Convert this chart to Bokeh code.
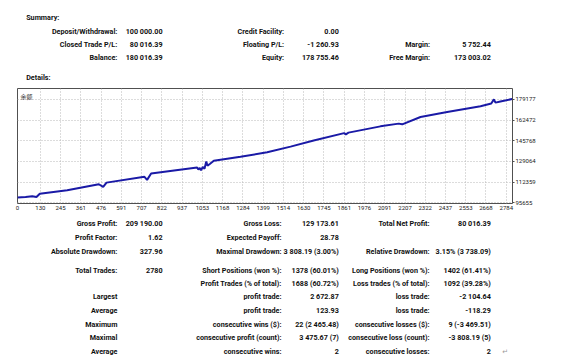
from bokeh.plotting import figure
from bokeh.layouts import column
from bokeh.models import Range1d, FixedTicker, BasicTickFormatter, ColumnDataSource
from bokeh.core.properties import value
from bokeh.embed import file_html
from bokeh.resources import INLINE

# ---------------- data ----------------
sum_col1_labels = ["Deposit/Withdrawal:", "Closed Trade P/L:", "Balance:"]
sum_col1_values = ["100 000.00", "80 016.39", "180 016.39"]
sum_col2_labels = ["Credit Facility:", "Floating P/L:", "Equity:"]
sum_col2_values = ["0.00", "-1 260.93", "178 755.46"]
sum_col3_labels = ["", "Margin:", "Free Margin:"]
sum_col3_values = ["", "5 752.44", "173 003.02"]

trade_no = [0, 46, 84, 108, 127, 283, 463, 488, 507, 723, 738, 761,
            1023, 1030, 1038, 1045, 1055, 1065, 1075, 1082, 1095, 1118,
            1270, 1422, 1555, 1687, 1860, 1870, 1885, 2067, 2171, 2191,
            2295, 2447, 2637, 2698, 2713, 2722, 2750, 2817]
balance = [100000, 100300, 100870, 100300, 102990, 105760, 110650, 108450, 111950, 116600, 114150, 119290,
           124180, 122500, 123800, 121900, 124500, 123200, 128900, 125600, 127000, 129640,
           132900, 136400, 141000, 145940, 151890, 150900, 152300, 157350, 159550, 158980,
           164930, 169000, 173650, 175850, 179110, 176500, 177480, 179400]

x_tick_labels = [0, 130, 245, 361, 476, 591, 707, 822, 937, 1053, 1168, 1284, 1399,
                 1514, 1630, 1745, 1861, 1976, 2091, 2207, 2322, 2437, 2553, 2668, 2784]
y_tick_labels = [95655, 112359, 129064, 145768, 162472, 179177]
series_name = "余额"

col1_labels = ["Gross Profit:", "Profit Factor:", "Absolute Drawdown:", "Total Trades:", "",
               "Largest", "Average", "Maximum", "Maximal", "Average"]
col1_values = ["209 190.00", "1.62", "327.96", "2780", "", "", "", "", "", ""]
col2_labels = ["Gross Loss:", "Expected Payoff:", "Maximal Drawdown:", "Short Positions (won %):",
               "Profit Trades (% of total):", "profit trade:", "profit trade:",
               "consecutive wins ($):", "consecutive profit (count):", "consecutive wins:"]
col2_values = ["129 173.61", "28.78", "3 808.19 (3.00%)", "1378 (60.01%)", "1688 (60.72%)",
               "2 672.87", "123.93", "22 (2 465.48)", "3 475.67 (7)", "2"]
col3_labels = ["Total Net Profit:", "", "Relative Drawdown:", "Long Positions (won %):",
               "Loss trades (% of total):", "loss trade:", "loss trade:",
               "consecutive losses ($):", "consecutive loss (count):", "consecutive losses:"]
col3_values = ["80 016.39", "", "3.15% (3 738.09)", "1402 (61.41%)", "1092 (39.28%)",
               "-2 104.64", "-118.29", "9 (-3 469.51)", "-3 808.19 (5)", "2"]

# ---------------- styles / layout ----------------
W = 570
FONT = value("Roboto")
TXT = "#111111"
FS = "7.2px"


def text_fig(h):
    f = figure(width=W, height=h, x_range=Range1d(0, W), y_range=Range1d(h, 0),
               toolbar_location=None, output_backend="svg", min_border=0)
    f.axis.visible = False
    f.grid.visible = False
    f.outline_line_color = None
    return f


def put(f, xs, ys, texts, align, bold=True, color=TXT, size=FS, font=FONT):
    src = ColumnDataSource(dict(x=xs, y=ys, t=texts))
    f.text(x="x", y="y", text="t", source=src, text_align=align, text_baseline="middle",
           text_font=font, text_font_style="bold" if bold else "normal",
           text_font_size=size, text_color=color)


# top block (page y 0..86)
top = text_fig(86)
put(top, [10], [17.3], ["Summary:"], "left")
sum_rows = [30.7, 43.7, 56.7]
put(top, [115] * 3, sum_rows, sum_col1_labels, "right")
put(top, [167] * 3, sum_rows, sum_col1_values, "right")
put(top, [307] * 3, sum_rows, sum_col2_labels, "right")
put(top, [370] * 3, sum_rows, sum_col2_values, "right")
put(top, [475] * 3, sum_rows, sum_col3_labels, "right")
put(top, [545] * 3, sum_rows, sum_col3_values, "right")
put(top, [10], [77], ["Details:"], "left")

# chart (page y 86..217, frame x 17..512, y 88..203)
x0, x1 = 0, 2819
y0, y1 = 95100, 187900
p = figure(width=W, height=131, x_range=Range1d(x0, x1), y_range=Range1d(y0, y1),
           toolbar_location=None, output_backend="svg", y_axis_location="right",
           min_border_left=17, min_border_right=58, min_border_top=2, min_border_bottom=14)
p.outline_line_color = "#505050"
p.outline_line_width = 1
p.xaxis.ticker = FixedTicker(ticks=x_tick_labels)
p.yaxis.ticker = FixedTicker(ticks=y_tick_labels)
p.yaxis.formatter = BasicTickFormatter(use_scientific=False)
for ax in (p.xaxis[0], p.yaxis[0]):
    ax.axis_line_color = None
    ax.minor_tick_line_color = None
    ax.major_label_text_font = "Roboto"
    ax.major_label_text_font_size = "6px"
    ax.major_label_text_color = "#222222"
    ax.major_tick_line_color = "#505050"
p.xaxis.major_tick_out = 0
p.xaxis.major_tick_in = 0
p.xaxis.major_label_standoff = 2
p.yaxis.major_tick_out = 2
p.yaxis.major_tick_in = 0
p.yaxis.major_label_standoff = 1
p.grid.grid_line_color = "#b8b8b8"
p.grid.grid_line_dash = "1 2"
p.grid.grid_line_width = 1
p.line(trade_no, balance, line_color="#1a1aa6", line_width=2)
p.text(x=[x0], y=[y1], text=[series_name], x_offset=3, y_offset=3, text_baseline="top",
       text_align="left", text_font=value("Noto Sans CJK SC"), text_font_size="6px",
       text_color="#333333")

# bottom block (page y 217..363)
BOT0 = 217
bot = text_fig(146)
bot_rows = [y - BOT0 for y in [223.3, 237.3, 250.7, 270.0, 283.3, 296.3, 310.0, 323.7, 337.3, 350.7]]
put(bot, [115] * 10, bot_rows, col1_labels, "right")
put(bot, [167] * 10, bot_rows, col1_values, "right")
put(bot, [304] * 10, bot_rows, col2_labels, "right")
put(bot, [370] * 10, bot_rows, col2_values, "right")
put(bot, [474.5] * 10, bot_rows, col3_labels, "right")
put(bot, [545] * 10, bot_rows, col3_values, "right")
put(bot, [561.5], [bot_rows[-1] + 1], ["↵"], "center", bold=False, color="#9a9a9a",
    size="7px", font=value("DejaVu Sans"))

layout = column(top, p, bot, spacing=0)
open("out.html", "w").write(file_html(layout, INLINE))
